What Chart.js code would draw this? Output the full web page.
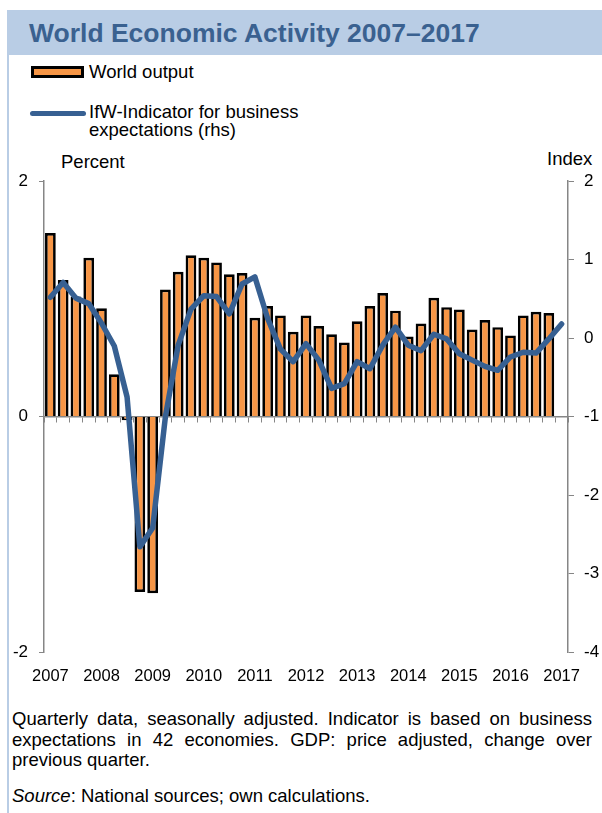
<!DOCTYPE html>
<html>
<head>
<meta charset="utf-8">
<script src="https://cdn.jsdelivr.net/npm/chart.js@4/dist/chart.umd.min.js"></script>
<style>
  body { margin: 0; width: 602px; height: 813px; position: relative; background: #fff;
         font-family: "Liberation Sans", Arial, sans-serif; color: #000; overflow: hidden; }
  .band { position: absolute; left: 7px; top: 10px; width: 595px; height: 45px; background: #b9cde5; }
  .band h1 { margin: 0; position: absolute; left: 22px; top: 8px; font-size: 26.5px; line-height: 30px; font-weight: bold; color: #3a6190; }
  .edge { position: absolute; left: 7px; top: 55px; width: 2px; height: 758px; background: #b9cde5; }
  .txt { position: absolute; font-size: 18.5px; line-height: 21px; white-space: nowrap; }
  .swatch { position: absolute; left: 31px; top: 66px; width: 47px; height: 6px; background: #f79646; border: 3px solid #000; }
  .lineSw { position: absolute; left: 30px; top: 110.5px; width: 56px; height: 5px; background: #376092; border-radius: 3px; }
  #wrap { position: absolute; left: 0; top: 160px; width: 602px; height: 530px; }
  .note { position: absolute; left: 12px; top: 709px; width: 580px; font-size: 18.5px; line-height: 20.5px; text-align: justify; }
</style>
</head>
<body>
<div class="band"><h1>World Economic Activity 2007–2017</h1></div>
<div class="edge"></div>
<div class="swatch"></div>
<div class="txt" style="left:89px; top:61px;">World output</div>
<div class="lineSw"></div>
<div class="txt" style="left:89px; top:103px; line-height:17.5px;">IfW-Indicator for business<br>expectations (rhs)</div>
<div class="txt" style="left:61px; top:151px;">Percent</div>
<div class="txt" style="left:547px; top:148px;">Index</div>
<div id="wrap"><canvas id="chart"></canvas></div>
<div class="note">Quarterly data, seasonally adjusted. Indicator is based on business expectations in 42 economies. GDP: price adjusted, change over previous quarter.</div>
<div class="txt" style="left:12px; top:785px;"><i>Source</i>: National sources; own calculations.</div>

<script>
// year labels on the x axis (one per Q1)
const years = ['2007', '2008', '2009', '2010', '2011', '2012', '2013', '2014', '2015', '2016', '2017'];

// quarterly categories 2007Q1 .. 2017Q1
const quarters = [];
years.forEach(y => {
    ['Q1', 'Q2', 'Q3', 'Q4'].forEach(q => quarters.push(y + q));
});
quarters.length = 41;

// world output, % change over previous quarter (lhs)
const worldOutput = [1.56, 1.16, 1.02, 1.35, 0.92, 0.36, -0.03, -1.49, -1.50, 1.08,
                     1.23, 1.37, 1.35, 1.31, 1.21, 1.22, 0.84, 0.94, 0.86, 0.72,
                     0.86, 0.77, 0.70, 0.63, 0.81, 0.94, 1.05, 0.90, 0.68, 0.79,
                     1.01, 0.93, 0.91, 0.74, 0.82, 0.76, 0.69, 0.86, 0.89, 0.88, null];

// IfW indicator for business expectations, index (rhs)
const ifwIndicator = [0.52, 0.71, 0.51, 0.44, 0.19, -0.10, -0.75, -2.66, -2.42, -1.00,
                      -0.09, 0.37, 0.54, 0.53, 0.31, 0.69, 0.78, 0.25, -0.14, -0.30,
                      -0.07, -0.28, -0.64, -0.58, -0.30, -0.39, -0.09, 0.14, -0.09, -0.16,
                      0.05, -0.01, -0.20, -0.28, -0.36, -0.41, -0.24, -0.18, -0.19, -0.01, 0.18];

const axisGray = '#868686';
const tickFont = { family: '"Liberation Sans", Arial, sans-serif', size: 17 };

const ctx = document.getElementById('chart').getContext('2d');
const myChart = new Chart(ctx, {
    data: {
        labels: quarters,
        datasets: [{
            type: 'line',
            label: 'IfW-Indicator for business expectations (rhs)',
            data: ifwIndicator,
            yAxisID: 'y2',
            borderColor: '#376092',
            borderWidth: 5.5,
            borderJoinStyle: 'round',
            borderCapStyle: 'round',
            pointRadius: 0,
            tension: 0,
            order: 0
        }, {
            type: 'bar',
            label: 'World output',
            data: worldOutput,
            yAxisID: 'y',
            backgroundColor: '#f79646',
            borderColor: '#000',
            borderWidth: 2.7,
            barPercentage: 0.84,
            categoryPercentage: 1,
            order: 1
        }]
    },
    options: {
        responsive: true,
        maintainAspectRatio: false,
        animation: false,
        layout: { padding: 0 },
        plugins: { legend: { display: false }, tooltip: { enabled: false } },
        scales: {
            x: {
                type: 'category',
                position: { y: 0 },
                offset: true,
                grid: { offset: true, drawOnChartArea: false, color: axisGray, tickLength: 5, lineWidth: 1 },
                border: { color: axisGray, width: 1.5 },
                ticks: { display: false }
            },
            x2: {
                type: 'category',
                position: 'bottom',
                offset: true,
                grid: { display: false, drawTicks: false },
                border: { display: false },
                ticks: {
                    autoSkip: false, maxRotation: 0, padding: 15, color: '#000',
                    font: { family: tickFont.family, size: 16.5 },
                    callback: (val, i) => (i % 4 === 0 ? years[i / 4] : '')
                },
                afterFit: s => { s.height = 38; }
            },
            y: {
                position: 'left',
                min: -2, max: 2,
                ticks: { stepSize: 2, padding: 11, color: '#000', font: tickFont },
                grid: { drawOnChartArea: false, color: axisGray, tickLength: 5 },
                border: { color: axisGray, width: 1.5 },
                afterFit: s => { s.width = 44; }
            },
            y2: {
                position: 'right',
                min: -4, max: 2,
                ticks: { stepSize: 1, padding: 10, color: '#000', font: tickFont },
                grid: { drawOnChartArea: false, color: axisGray, tickLength: 6 },
                border: { color: axisGray, width: 1.5 },
                afterFit: s => { s.width = 34; }
            }
        }
    }
});
</script>
</body>
</html>
